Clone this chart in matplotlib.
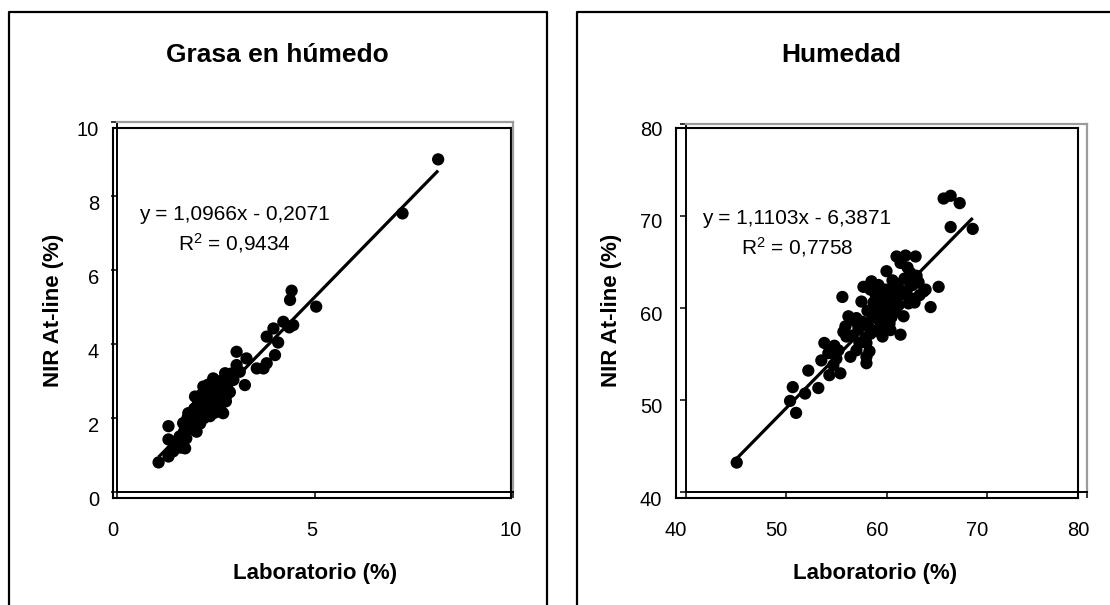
import matplotlib
matplotlib.use('Agg')
import matplotlib.pyplot as plt
from matplotlib.lines import Line2D

plt.rcParams['font.family'] = ['Liberation Sans', 'DejaVu Sans']
plt.rcParams['mathtext.fontset'] = 'custom'
plt.rcParams['mathtext.rm'] = 'Liberation Sans'
plt.rcParams['mathtext.default'] = 'regular'

# ---------------- data ----------------
grasa_lab = [1.05, 1.30, 1.30, 1.30, 1.42, 1.50, 1.55, 1.60, 1.72, 1.65, 1.67, 1.75, 1.80, 1.85,
             1.90, 1.95, 2.01, 1.97, 2.00, 2.05, 2.08, 2.10, 2.12, 2.15, 2.18, 2.20, 2.22, 2.25,
             2.28, 2.30, 2.32, 2.35, 2.38, 2.40, 2.43, 2.45, 2.48, 2.50, 2.52, 2.55, 2.58, 2.60,
             2.62, 2.65, 2.68, 2.70, 2.73, 2.75, 2.77, 2.80, 2.85, 2.90, 2.94, 3.02, 3.02, 3.10,
             3.23, 3.27, 3.53, 3.70, 3.78, 3.99, 3.78, 3.95, 4.07, 4.20, 4.45, 4.35, 4.37, 4.41,
             5.03, 7.21, 8.11,
             2.15, 2.25, 2.35, 2.45, 2.55, 2.30, 2.40, 2.50, 2.60, 2.20, 2.10, 2.30, 1.95, 2.05,
             2.65, 2.75, 2.85, 2.88, 2.40, 2.70,
             1.45, 1.58, 1.70, 1.82, 1.88, 2.00, 2.18, 2.28, 2.38, 2.48, 2.58, 2.68, 2.78, 2.33,
             2.22, 2.12, 2.42, 2.52, 2.62, 2.72, 1.78, 1.92]
grasa_nir = [0.80, 0.96, 1.42, 1.78, 1.10, 1.25, 1.41, 1.20, 1.18, 1.55, 1.86, 1.45, 2.13, 1.70,
             1.95, 1.80, 1.63, 2.58, 2.20, 2.40, 1.95, 2.10, 2.55, 2.30, 2.85, 2.00, 2.45, 2.70,
             2.20, 2.90, 2.50, 2.05, 2.65, 2.35, 3.07, 2.80, 2.15, 2.55, 2.95, 2.40, 2.75, 2.25,
             3.00, 2.60, 2.13, 2.85, 3.21, 2.45, 2.62, 3.05, 2.70, 3.15, 3.03, 3.79, 3.43, 3.25,
             2.89, 3.61, 3.34, 3.34, 3.48, 3.70, 4.20, 4.42, 4.04, 4.60, 4.51, 4.45, 5.19, 5.44,
             5.01, 7.53, 8.99,
             2.65, 2.35, 2.80, 2.55, 2.85, 2.60, 2.75, 2.30, 2.70, 2.40, 1.85, 2.25, 2.25, 2.05,
             2.95, 2.90, 3.00, 3.20, 2.95, 2.55,
             1.30, 1.50, 1.65, 1.90, 2.05, 2.30, 2.15, 2.45, 2.55, 2.65, 2.60, 2.75, 2.85, 2.40,
             2.60, 2.40, 2.20, 2.45, 2.50, 3.05, 2.00, 2.15]

hum_lab = [45.06, 50.38, 50.65, 50.98, 51.88, 52.2, 53.2, 53.8, 53.5, 54.2, 54.3, 54.7, 55.4, 55.2,
           55.6, 55.7, 55.9, 56.2, 56.4, 57.0, 57.5, 58.0, 58.0, 58.0, 57.7, 58.4, 58.5, 59.6,
           60.4, 61.4, 61.7, 62.2, 63.7, 64.4, 65.2, 65.7, 66.4, 67.3, 66.4, 68.6, 61.0, 61.9,
           62.9, 60.0, 61.4, 60.6, 62.4, 63.9, 63.2, 62.6, 62.0,
           57.2, 57.6, 58.2, 58.6, 58.8, 59.0, 59.3, 59.6, 59.8, 60.0, 60.2, 60.5, 60.7, 61.0,
           60.3, 59.4, 58.4, 57.9, 58.9, 59.2, 60.8, 61.2, 61.6, 62.6, 62.8, 63.3, 56.6, 57.3,
           58.3, 56.8,
           59.1, 59.7, 60.1, 60.6, 61.3, 58.7, 59.5, 60.9, 62.3, 63.0, 61.8, 57.0, 56.0, 55.0,
           54.8, 58.1, 59.9, 60.4, 62.1, 61.1]
hum_nir = [43.2, 49.9, 51.4, 48.6, 50.7, 53.2, 51.3, 56.2, 54.3, 55.1, 52.7, 53.8, 52.9, 55.4,
           61.2, 57.4, 58.0, 59.1, 54.7, 55.4, 60.7, 54.0, 54.7, 56.2, 62.3, 62.0, 62.9, 56.9,
           57.6, 57.1, 59.1, 60.5, 61.8, 60.1, 62.3, 71.9, 72.2, 71.4, 68.8, 68.6, 65.6, 65.7,
           65.6, 64.0, 64.9, 63.0, 63.8, 62.0, 62.8, 62.5, 61.8,
           57.8, 58.5, 58.0, 59.0, 57.5, 60.0, 58.6, 59.5, 61.0, 60.2, 61.5, 59.0, 60.5, 61.0,
           58.3, 57.8, 57.2, 56.8, 61.5, 62.5, 62.2, 60.3, 61.5, 61.0, 60.6, 61.4, 57.0, 56.2,
           55.3, 58.6,
           59.8, 60.4, 59.3, 61.8, 62.0, 60.6, 58.9, 59.6, 62.9, 63.5, 63.2, 58.9, 56.9, 54.5,
           55.9, 59.7, 62.0, 60.8, 64.4, 62.6]

titles = ['Grasa en húmedo', 'Humedad']
grasa_ticks = [0, 5, 10]
grasa_yticks = [0, 2, 4, 6, 8, 10]
hum_ticks = [40, 50, 60, 70, 80]
grasa_fit = (1.0966, -0.2071)
hum_fit = (1.1103, -6.3871)
grasa_eq = ['y = 1,0966x - 0,2071', 'R$^{2}$ = 0,9434']
hum_eq = ['y = 1,1103x - 6,3871', 'R$^{2}$ = 0,7758']
xlabel = 'Laboratorio (%)'
ylabel = 'NIR At-line (%)'

# ---------------- layout ----------------
W, H = 1110, 605
fig = plt.figure(figsize=(W / 100, H / 100), dpi=100)


def rect(l, t, r, b):
    return [l / W, 1 - b / H, (r - l) / W, (b - t) / H]


def fx(x):
    return x / W


def fy(y):
    return 1 - y / H


panels = [
    dict(x=grasa_lab, y=grasa_nir, fit=grasa_fit, eq=grasa_eq, title=titles[0],
         lim=(0, 10), xt=grasa_ticks, yt=grasa_yticks,
         frame=(113, 128, 511, 498), data=(117, 122, 513, 492),
         border=(9, 547), title_xy=(277, 62), eq_xy=(234, 215, 243),
         xl_xy=(315, 574), yl_xy=(54, 310)),
    dict(x=hum_lab, y=hum_nir, fit=hum_fit, eq=hum_eq, title=titles[1],
         lim=(40, 80), xt=hum_ticks, yt=hum_ticks,
         frame=(676, 128, 1078, 498), data=(686, 124, 1087, 492),
         border=(577, 1118), title_xy=(841, 62), eq_xy=(797, 218, 247),
         xl_xy=(875, 574), yl_xy=(612, 310)),
]

for p in panels:
    # outer chart border
    l, r = p['border']
    fig.add_artist(Line2D([fx(l), fx(l), fx(r), fx(r)], [fy(615), fy(12), fy(12), fy(615)],
                          transform=fig.transFigure, color='black', lw=1.6))

    # frame layer (plot area + labels)
    axf = fig.add_axes(rect(*p['frame']))
    axf.set_xlim(*p['lim'])
    axf.set_ylim(*p['lim'])
    axf.set_xticks(p['xt'])
    axf.set_yticks(p['yt'])
    axf.tick_params(axis='both', length=0, labelsize=14.5, labelcolor='black')
    axf.tick_params(axis='x', pad=16.5)
    axf.tick_params(axis='y', pad=10)
    for s in axf.spines.values():
        s.set_color('black')
        s.set_linewidth(1.5)
    axf.set_zorder(1)

    # data layer
    axd = fig.add_axes(rect(*p['data']))
    axd.patch.set_visible(False)
    axd.set_xlim(*p['lim'])
    axd.set_ylim(*p['lim'])
    axd.set_xticks(p['xt'])
    axd.set_yticks(p['yt'])
    axd.tick_params(axis='both', direction='out', length=4.3, width=1.1, color='black',
                    labelleft=False, labelbottom=False)
    axd.spines['left'].set_color('black')
    axd.spines['bottom'].set_color('black')
    axd.spines['left'].set_linewidth(1.4)
    axd.spines['bottom'].set_linewidth(1.4)
    axd.spines['top'].set_color('#9c9c9c')
    axd.spines['right'].set_color('#9c9c9c')
    axd.spines['top'].set_linewidth(1.6)
    axd.spines['right'].set_linewidth(1.6)
    axd.set_zorder(2)

    axd.scatter(p['x'], p['y'], s=78, color='black', edgecolors='none', zorder=3)
    a, b = p['fit']
    x0, x1 = min(p['x']), max(p['x'])
    axd.plot([x0, x1], [a * x0 + b, a * x1 + b], color='black', lw=2.3, zorder=4,
             solid_capstyle='butt')

    # texts
    fig.text(fx(p['title_xy'][0]), fy(p['title_xy'][1]), p['title'], ha='center',
             va='baseline', fontsize=19, fontweight='bold')
    ex, ey1, ey2 = p['eq_xy']
    fig.text(fx(ex), fy(ey1), p['eq'][0], ha='center', va='center', fontsize=15)
    fig.text(fx(ex), fy(ey2), p['eq'][1], ha='center', va='center', fontsize=15)
    fig.text(fx(p['xl_xy'][0]), fy(p['xl_xy'][1]), xlabel, ha='center', va='center',
             fontsize=16, fontweight='bold')
    fig.text(fx(p['yl_xy'][0]), fy(p['yl_xy'][1]), ylabel, ha='center', va='center',
             fontsize=16, fontweight='bold', rotation=90)

fig.savefig('out.png', dpi=100, facecolor='white')
